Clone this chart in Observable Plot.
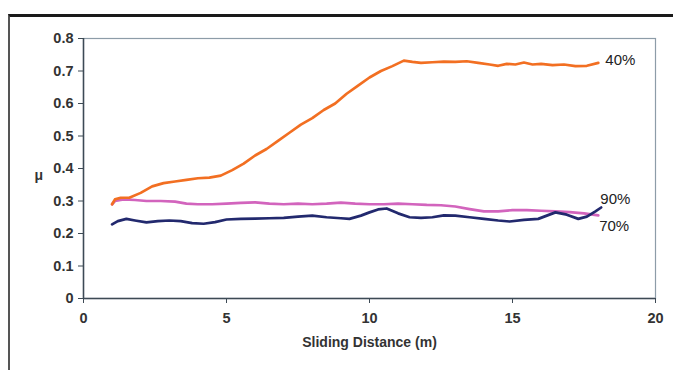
<!DOCTYPE html>
<html>
<head>
<meta charset="utf-8">
<script src="https://cdn.jsdelivr.net/npm/d3@7"></script>
<script src="https://cdn.jsdelivr.net/npm/@observablehq/plot@0.6"></script>
<style>
  html, body { margin: 0; padding: 0; background: #fff; }
  #wrap { position: relative; width: 673px; height: 370px; overflow: hidden; }
  #border { position: absolute; left: 8px; top: 14px; width: 680px; height: 370px;
            border-top: 3px solid #1a1a1a; border-left: 2px solid #555; box-sizing: border-box; }
</style>
</head>
<body>
<div id="wrap"><div id="border"></div></div>
<script>
// Series: 40% (orange)
const x40 = [1.0,1.1,1.3,1.6,2.0,2.4,2.8,3.2,3.6,4.0,4.4,4.8,5.2,5.6,6.0,6.4,6.8,7.2,7.6,8.0,8.4,8.8,9.2,9.6,10.0,10.4,10.8,11.2,11.5,11.8,12.2,12.6,13.0,13.4,13.8,14.2,14.5,14.8,15.1,15.4,15.7,16.0,16.4,16.8,17.2,17.6,18.0];
const y40 = [0.29,0.305,0.31,0.31,0.325,0.345,0.355,0.36,0.365,0.37,0.372,0.378,0.395,0.415,0.44,0.46,0.485,0.51,0.535,0.555,0.58,0.60,0.63,0.655,0.68,0.70,0.715,0.732,0.728,0.725,0.727,0.729,0.728,0.73,0.725,0.72,0.716,0.722,0.72,0.726,0.72,0.722,0.718,0.72,0.715,0.716,0.725];
// Series: 90% (pink)
const x90 = [1.0,1.1,1.4,1.8,2.2,2.7,3.2,3.6,4.0,4.5,5.0,5.5,6.0,6.5,7.0,7.5,8.0,8.5,9.0,9.5,10.0,10.5,11.0,11.5,12.0,12.5,13.0,13.5,14.0,14.5,15.0,15.5,16.0,16.5,17.0,17.5,18.0];
const y90 = [0.29,0.30,0.305,0.303,0.30,0.30,0.298,0.292,0.29,0.29,0.292,0.294,0.296,0.292,0.29,0.292,0.29,0.292,0.295,0.292,0.29,0.29,0.292,0.29,0.288,0.287,0.283,0.275,0.268,0.268,0.272,0.272,0.27,0.268,0.266,0.262,0.256];
// Series: 70% (navy)
const x70 = [1.0,1.2,1.5,1.8,2.2,2.6,3.0,3.4,3.8,4.2,4.6,5.0,5.5,6.0,6.5,7.0,7.5,8.0,8.5,9.0,9.3,9.7,10.0,10.3,10.6,11.0,11.4,11.8,12.2,12.6,13.0,13.5,14.0,14.5,14.9,15.4,15.9,16.2,16.5,16.9,17.3,17.6,17.9,18.1];
const y70 = [0.228,0.238,0.245,0.24,0.234,0.238,0.24,0.238,0.232,0.23,0.235,0.243,0.245,0.246,0.247,0.248,0.252,0.255,0.25,0.247,0.245,0.255,0.265,0.274,0.277,0.262,0.25,0.248,0.25,0.256,0.255,0.25,0.245,0.24,0.237,0.242,0.245,0.255,0.265,0.258,0.245,0.252,0.268,0.28];

const seriesNames = ["40%", "90%", "70%"];
const xTicks = [0, 5, 10, 15, 20];
const yTicks = [0, 0.1, 0.2, 0.3, 0.4, 0.5, 0.6, 0.7, 0.8];
const xTitle = "Sliding Distance (m)";
const yTitle = "μ";

const toRows = (xs, ys, name) => xs.map((x, i) => ({x, y: ys[i], s: name}));
const d40 = toRows(x40, y40, seriesNames[0]);
const d90 = toRows(x90, y90, seriesNames[1]);
const d70 = toRows(x70, y70, seriesNames[2]);

const colors = {"40%": "#f26f22", "90%": "#d264bd", "70%": "#22296e"};
const fmt = d3.format("~g");

const chart = Plot.plot({
  width: 673,
  height: 370,
  marginLeft: 83,
  marginRight: 18,
  marginTop: 38,
  marginBottom: 72,
  style: {fontFamily: "'Liberation Sans', Arial, sans-serif", fontSize: "13px", color: "#2a2a2a", background: "transparent"},
  x: {domain: [0, 20]},
  y: {domain: [0, 0.8]},
  marks: [
    Plot.frame({stroke: "#8d9ca8", strokeWidth: 1.2}),
    Plot.axisX({ticks: xTicks, tickSize: 5, tickPadding: 9, label: null, tickFormat: fmt, fontSize: 14.5, fontWeight: "bold", stroke: "#3d4a55", fill: "#333"}),
    Plot.axisY({ticks: yTicks, tickSize: 5, tickPadding: 5, label: null, tickFormat: fmt, fontSize: 14.5, fontWeight: "bold", stroke: "#3d4a55", fill: "#333"}),
    Plot.ruleX([0], {stroke: "#3d4a55", strokeWidth: 1.5}),
    Plot.ruleY([0], {stroke: "#3d4a55", strokeWidth: 1.5}),
    Plot.line(d90, {x: "x", y: "y", stroke: colors["90%"], strokeWidth: 2.7}),
    Plot.line(d70, {x: "x", y: "y", stroke: colors["70%"], strokeWidth: 2.7}),
    Plot.line(d40, {x: "x", y: "y", stroke: colors["40%"], strokeWidth: 2.7}),
    Plot.text([d40[d40.length - 1]], {x: "x", y: "y", text: "s", textAnchor: "start", dx: 7, dy: -3, fontSize: 15, fill: "#222"}),
    Plot.text([d90[d90.length - 1]], {x: "x", y: "y", text: "s", textAnchor: "start", dx: 2, dy: -16, fontSize: 15, fill: "#222"}),
    Plot.text([d70[d70.length - 1]], {x: "x", y: "y", text: "s", textAnchor: "start", dx: -2, dy: 19, fontSize: 15, fill: "#222"}),
    Plot.text([xTitle], {frameAnchor: "bottom", dy: 48, text: d => d, fontSize: 14, fontWeight: "bold", fill: "#333"}),
    Plot.text([yTitle], {frameAnchor: "left", dx: -49, dy: 7, text: d => d, fontSize: 14, fontWeight: "bold", fill: "#333"})
  ]
});
chart.style.position = "absolute";
chart.style.left = "0px";
chart.style.top = "0px";
document.getElementById("wrap").appendChild(chart);
</script>
</body>
</html>
